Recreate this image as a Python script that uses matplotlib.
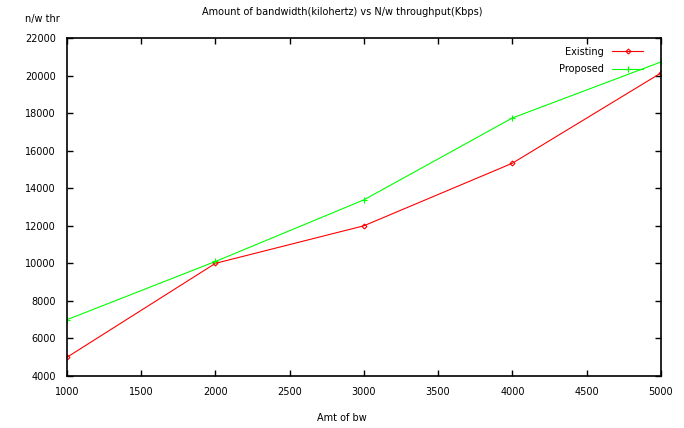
import matplotlib
matplotlib.use("Agg")
import matplotlib.pyplot as plt

bandwidth = [1000, 2000, 3000, 4000, 5000]
existing = [5000, 10000, 12000, 15330, 20130]
proposed = [7000, 10100, 13380, 17740, 20720]

plt.rcParams['font.family'] = ['DejaVu Sans']
fig = plt.figure(figsize=(6.84, 4.28), dpi=100)
ax = fig.add_axes([0.098, 0.1215, 0.868, 0.7897])

ax.plot(bandwidth, existing, color='#ff0000', linewidth=0.8, marker='D',
        markersize=2.5, markerfacecolor='none', markeredgewidth=0.8, label='Existing')
ax.plot(bandwidth, proposed, color='#00ff00', linewidth=0.8, marker='+',
        markersize=5, markeredgewidth=0.8, label='Proposed')

ax.set_xlim(1000, 5000)
ax.set_ylim(4000, 22000)
ax.set_xticks(range(1000, 5001, 500))
ax.set_yticks(range(4000, 22001, 2000))
ax.tick_params(direction='in', length=4, width=1, labelsize=7, top=True, right=True, pad=8)
for s in ax.spines.values():
    s.set_linewidth(1.2)

fig.text(0.5, 0.972, 'Amount of bandwidth(kilohertz) vs N/w throughput(Kbps)',
         ha='center', va='center', fontsize=7)
fig.text(0.5, 0.023, 'Amt of bw', ha='center', va='center', fontsize=7)
fig.text(0.062, 0.955, 'n/w thr', ha='center', va='center', fontsize=7)

leg = ax.legend(loc='upper right', frameon=False, fontsize=7, markerfirst=False,
                handlelength=3.2, bbox_to_anchor=(0.985, 1.0), labelspacing=0.75)

fig.savefig('out.png', dpi=100)
